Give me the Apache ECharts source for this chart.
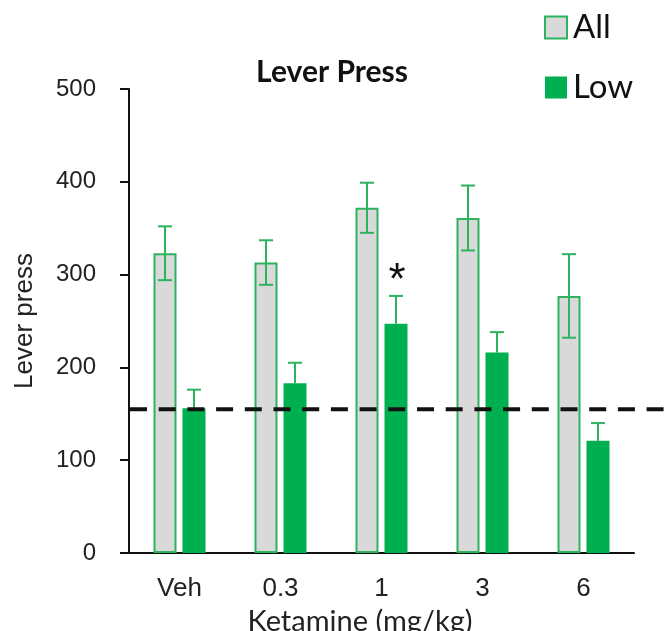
<!DOCTYPE html>
<html>
<head>
<meta charset="utf-8">
<script src="https://cdn.jsdelivr.net/npm/echarts@6/dist/echarts.min.js"></script>
<style>
  html, body { margin: 0; padding: 0; background: #ffffff; }
  #chart { width: 664px; height: 631px; }
</style>
</head>
<body>
<div id="chart"></div>
<script>
// Dose groups on the x axis
const doses = ['Veh', '0.3', '1', '3', '6'];
// Mean lever presses, all animals
const allMean = [323, 313, 372, 361, 277];
// SEM, all animals
const allErr = [29, 24, 27, 35, 45];
// Mean lever presses, low responders
const lowMean = [156, 183, 247, 216, 121];
// SEM, low responders
const lowErr = [20, 22, 30, 22, 19];
// Significance markers for the low responders
const lowSig = ['', '', '*', '', ''];
// Reference level (vehicle, low responders)
const refLevel = [155];
// Y axis ticks
const yTicks = [0, 100, 200, 300, 400, 500];

const GREEN = '#00B050';
const EDGE = '#2DB35E';
const GRAY = '#D9D9D9';
const BAR_W = 23;
const BAR_GAP = 6;

function errorBars(marks, side, both) {
  return function (params, api) {
    const idx = api.value(0);
    const m = api.value(1);
    const e = api.value(2);
    const off = side * (BAR_W + BAR_GAP) / 2;
    const top = api.coord([idx, m + e]);
    const bottom = api.coord([idx, both ? m - e : m]);
    const x = top[0] + off;
    const cap = 7;
    const lineStyle = { stroke: EDGE, lineWidth: 2 };
    const children = [
      { type: 'line', shape: { x1: x, y1: top[1], x2: x, y2: bottom[1] }, style: lineStyle },
      { type: 'line', shape: { x1: x - cap, y1: top[1], x2: x + cap, y2: top[1] }, style: lineStyle }
    ];
    if (both) {
      children.push({ type: 'line', shape: { x1: x - cap, y1: bottom[1], x2: x + cap, y2: bottom[1] }, style: lineStyle });
    }
    const mark = marks ? marks[idx] : '';
    if (mark) {
      children.push({
        type: 'text',
        style: {
          text: mark, x: x + 1, y: top[1] - 36,
          fill: '#111', font: '44px "Liberation Sans"', align: 'center', verticalAlign: 'top'
        }
      });
    }
    return { type: 'group', children: children };
  };
}

const chart = echarts.init(document.getElementById('chart'), null, { renderer: 'canvas' });

chart.setOption({
  animation: false,
  backgroundColor: '#ffffff',
  title: {
    text: 'Lever Press',
    left: 332, top: 57, textAlign: 'center', padding: 0,
    textStyle: { fontFamily: 'Lato', fontWeight: 'bold', fontSize: 30, color: '#111' }
  },
  legend: {
    data: ['All', 'Low'],
    orient: 'vertical',
    left: 544, top: 11, padding: 0,
    itemWidth: 22, itemHeight: 22, itemGap: 27,
    icon: 'rect',
    textStyle: { fontFamily: 'Lato', fontSize: 33, color: '#111', lineHeight: 30, padding: [0, 0, 0, 1] }
  },
  grid: { left: 129, right: 30, top: 89, bottom: 78, outerBoundsMode: 'none', containLabel: false },
  xAxis: {
    type: 'category',
    data: doses,
    name: 'Ketamine (mg/kg)',
    nameLocation: 'middle',
    nameGap: 47,
    nameTextStyle: { fontFamily: 'Lato', fontSize: 29, color: '#222', padding: [0, 43, 0, 0] },
    axisLine: { show: true, lineStyle: { color: '#111', width: 2 } },
    axisTick: { show: false },
    axisLabel: { fontFamily: 'Liberation Sans', fontSize: 26, color: '#222', margin: 23 },
    splitLine: { show: false }
  },
  yAxis: {
    type: 'value',
    min: yTicks[0], max: yTicks[yTicks.length - 1], interval: 100,
    name: 'Lever press',
    nameLocation: 'middle',
    nameGap: 91,
    nameRotate: 90,
    nameTextStyle: { fontFamily: 'Liberation Sans', fontSize: 26, color: '#222' },
    axisLine: { show: true, lineStyle: { color: '#111', width: 2 } },
    axisTick: { show: true, inside: false, length: 9, lineStyle: { color: '#111', width: 2 } },
    axisLabel: { fontFamily: 'Liberation Sans', fontSize: 24, color: '#222', margin: 33 },
    splitLine: { show: false }
  },
  series: [
    {
      name: 'All', type: 'bar', data: allMean,
      barWidth: BAR_W, barGap: (BAR_GAP / BAR_W * 100) + '%',
      itemStyle: { color: GRAY, borderColor: EDGE, borderWidth: 2 },
      z: 2
    },
    {
      name: 'Low', type: 'bar', data: lowMean,
      barWidth: BAR_W,
      itemStyle: { color: GREEN },
      z: 2
    },
    {
      type: 'custom', name: 'allErr', z: 5, clip: false,
      data: allMean.map((v, i) => [i, v, allErr[i]]),
      renderItem: errorBars(null, -1, true)
    },
    {
      type: 'custom', name: 'lowErr', z: 5, clip: false,
      data: lowMean.map((v, i) => [i, v, lowErr[i]]),
      renderItem: errorBars(lowSig, 1, false)
    },
    {
      type: 'custom', name: 'ref', z: 6, clip: false,
      data: refLevel.map(v => [0, v]),
      renderItem: function (params, api) {
        const y = api.coord([0, api.value(1)])[1];
        return {
          type: 'line',
          shape: { x1: params.coordSys.x + 1, y1: y, x2: api.getWidth(), y2: y },
          style: { stroke: '#111', lineWidth: 4, lineDash: [17, 11.7] }
        };
      }
    }
  ]
});
</script>
</body>
</html>
